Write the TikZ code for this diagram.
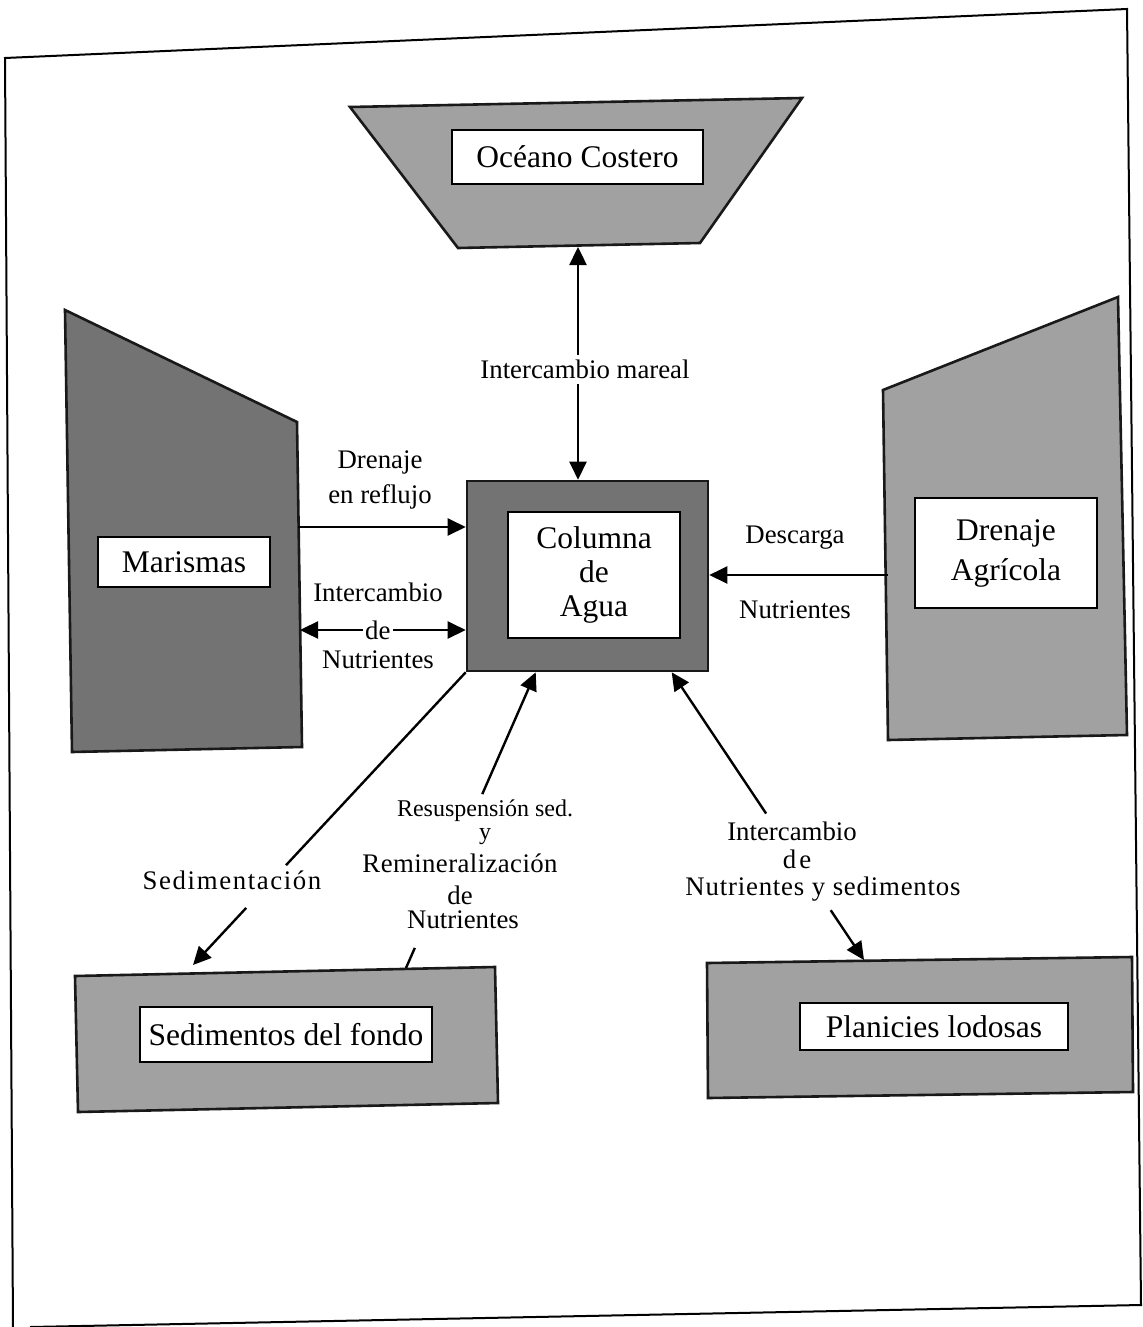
\documentclass[tikz,border=0pt]{standalone}
\usepackage{fontspec}
\setmainfont{Liberation Serif}
\usetikzlibrary{arrows.meta,calc}
\newcommand\bxfont{\fontsize{15.75pt}{17pt}\selectfont}
\newcommand\lbfont{\fontsize{13.4pt}{17.5pt}\selectfont}
\newcommand\smfont{\fontsize{12pt}{14pt}\selectfont}
\definecolor{darkhatch}{gray}{0.45}
\definecolor{lighthatch}{gray}{0.63}
\tikzset{
  shp/.style={draw=black!90, line width=1.3pt, line join=miter},
  boxlbl/.style={draw=black, line width=1pt, fill=white, font=\bxfont, align=center, inner sep=0pt},
  lbl/.style={font=\lbfont, align=center, inner sep=0pt},
  plain/.style={line width=1.2pt},
  conn/.style={line width=1.2pt, -{Triangle[length=9pt,width=8.5pt]}},
  dconn/.style={line width=1.2pt, {Triangle[length=9pt,width=8.5pt]}-{Triangle[length=9pt,width=8.5pt]}},
}
\begin{document}
\begin{tikzpicture}[x=0.5pt,y=-0.5pt]
\fill[white] (0,0) rectangle (1142,1327);
\useasboundingbox (0,0) rectangle (1142,1327);
% frame
\draw[line width=1pt] (13,1327) -- (5,58) -- (1127,9) -- (1141,1305) -- (30,1327);

% Oceano Costero
\filldraw[shp, fill=lighthatch] (350,107) -- (802,98) -- (700,243) -- (458,248) -- cycle;
\node[boxlbl, minimum width=125.5pt, minimum height=27pt] (ocean) at (577.5,157) {Océano Costero};
\coordinate (ocB) at (578,247);

% Marismas
\filldraw[shp, fill=darkhatch] (65,310) -- (297,422) -- (302,747) -- (72,752) -- cycle;
\node[boxlbl, minimum width=86pt, minimum height=25pt] (mar) at (184,562) {Marismas};
\coordinate (mar1) at (298,527);
\coordinate (mar2) at (300,630);

% Drenaje Agricola
\filldraw[shp, fill=lighthatch] (1118,297) -- (1127,735) -- (888,740) -- (883,390) -- cycle;
\node[boxlbl, minimum width=91pt, minimum height=55pt, font=\fontsize{15.75pt}{20pt}\selectfont] (dre) at (1006,553) {Drenaje\\Agrícola};
\coordinate (dre1) at (888,575);

% Columna de Agua
\node[shp, fill=darkhatch, minimum width=120.5pt, minimum height=95pt, inner sep=0pt] (col) at (587.5,576) {};
\node[boxlbl, minimum width=86pt, minimum height=63pt] (colin) at (594,575) {Columna\\de\\Agua};

% Sedimentos del fondo
\filldraw[shp, fill=lighthatch] (75,976) -- (495,967) -- (498,1103) -- (78,1112) -- cycle;
\node[boxlbl, minimum width=146pt, minimum height=27.5pt] (sed) at (286,1034.5) {Sedimentos del fondo};
\coordinate (sed1) at (193,965);
\coordinate (sed2) at (406,968);

% Planicies lodosas
\filldraw[shp, fill=lighthatch] (707,963) -- (1132,957) -- (1133,1092) -- (708,1098) -- cycle;
\node[boxlbl, minimum width=134pt, minimum height=23.5pt] (pla) at (934,1026.5) {Planicies lodosas};
\coordinate (pla1) at (864,960);

\coordinate (col2) at ($(col.south west)+(70,0)$);
\coordinate (col3) at ($(col.south west)+(206,0)$);

% Intercambio mareal
\draw[dconn] (ocB) -- (ocB |- col.north)
  node[lbl, fill=white, inner sep=2.5pt, pos=0.526, xshift=3.5pt] (lmar) {Intercambio mareal};

% Drenaje en reflujo
\draw[conn] (mar1) -- (mar1 -| col.west);
\node[lbl] (ldren) at (380,480) {Drenaje\\en reflujo};

% Intercambio de Nutrientes (Marismas)
\draw[dconn] (mar2) -- (mar2 -| col.west)
  node[lbl, fill=white, inner sep=1pt, pos=0.47] (lde1) {de};
\node[lbl] (lint1) at (378,592) {Intercambio};
\node[lbl] (lnut1) at (378,660) {Nutrientes};

% Descarga Nutrientes
\draw[conn] (dre1) -- (dre1 -| col.east);
\node[lbl] (ldes) at (795,538) {Descarga};
\node[lbl] (lnut2) at (795,610) {Nutrientes};

% Sedimentacion
\draw[plain] (col.south west) -- ($(col.south west)!0.659!(sed1)$);
\draw[conn] ($(col.south west)!0.805!(sed1)$) -- (sed1);
\node[lbl] (lsedim) at (232,880) {\addfontfeature{LetterSpace=6}Sedimentación};

% Resuspension
\draw[plain] (sed2) -- ($(sed2)!0.068!(col2)$);
\draw[conn] ($(sed2)!0.588!(col2)$) -- (col2);
\node[lbl, font=\smfont] (lres) at (485,811) {Resuspensión sed.};
\node[lbl, font=\smfont] (ly) at (485,837) {y};
\node[lbl] (lremin) at (460,863) {\addfontfeature{LetterSpace=1.5}Remineralización};
\node[lbl] (lde2) at (460,895) {de};
\node[lbl] (lnut3) at (463,920) {Nutrientes};

% Intercambio de Nutrientes y sedimentos
\draw[conn] ($(col3)!0.491!(pla1)$) -- (col3);
\draw[conn] ($(col3)!0.827!(pla1)$) -- (pla1);
\node[lbl] (lint2) at (792,831) {Intercambio};
\node[lbl] (lde3) at (797,859) {\addfontfeature{LetterSpace=12}de};
\node[lbl] (lnut4) at (823,889) {\addfontfeature{LetterSpace=3}Nutrientes y sedimentos};
\end{tikzpicture}
\end{document}
